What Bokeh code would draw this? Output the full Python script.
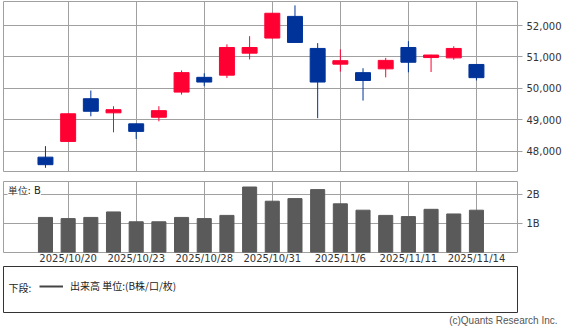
from bokeh.plotting import figure
from bokeh.models import (Range1d, FixedTicker, NumeralTickFormatter, PrintfTickFormatter,
                          Label, Title, Legend, LegendItem, ColumnDataSource)
from bokeh.layouts import column
from bokeh.embed import file_html
from bokeh.resources import INLINE

dates = ["2025/10/17", "2025/10/20", "2025/10/21", "2025/10/22", "2025/10/23", "2025/10/24",
         "2025/10/27", "2025/10/28", "2025/10/29", "2025/10/30", "2025/10/31", "2025/11/4",
         "2025/11/5", "2025/11/6", "2025/11/7", "2025/11/10", "2025/11/11", "2025/11/12",
         "2025/11/13", "2025/11/14"]
open_ = [47810, 48310, 49670, 49220, 48870, 49080, 49880, 50350, 50420, 51120,
         51600, 52290, 51270, 50770, 50500, 50620, 51300, 50980, 50970, 50760]
high = [48160, 49200, 49930, 49430, 48880, 49430, 50570, 50480, 51400, 51660,
        52400, 52640, 51440, 51240, 50640, 50970, 51500, 51070, 51340, 50770]
low = [47470, 48300, 49110, 48600, 48390, 48950, 49800, 50070, 50330, 50920,
       51590, 51450, 49050, 50530, 49610, 50350, 50510, 50520, 50910, 50250]
close = [47570, 49190, 49270, 49320, 48630, 49290, 50500, 50200, 51300, 51300,
         52390, 51460, 50200, 50880, 50250, 50890, 50830, 51060, 51270, 50340]
volume_b = [1.21, 1.17, 1.21, 1.40, 1.06, 1.06, 1.21, 1.17, 1.28, 2.26,
            1.77, 1.86, 2.17, 1.68, 1.46, 1.28, 1.24, 1.49, 1.33, 1.46]
tick_labels = ["2025/10/20", "2025/10/23", "2025/10/28", "2025/10/31",
               "2025/11/6", "2025/11/11", "2025/11/14"]
price_ticks = [48000, 49000, 50000, 51000, 52000]
volume_ticks = [1, 2]

UP = "#FF0033"
DOWN = "#003399"
GRID = "#a0a0a0"
FONT = "DejaVu Sans"
CJK = "Noto Sans CJK JP"

idx = list(range(len(dates)))
src = ColumnDataSource(dict(
    x=idx, open=open_, high=high, low=low, close=close,
    top=[max(o, c) for o, c in zip(open_, close)],
    bottom=[min(o, c) for o, c in zip(open_, close)],
    color=[UP if c >= o else DOWN for o, c in zip(open_, close)],
    vol=volume_b,
))
tick_idx = [dates.index(t) for t in tick_labels]
xr = Range1d(-1.85, 20.81)

# ---------- price panel ----------
p1 = figure(width=575, height=176, x_range=xr, y_range=Range1d(47353, 52764),
            output_backend="svg", toolbar_location=None, y_axis_location="right",
            x_axis_location=None, min_border_left=3, min_border_right=58,
            min_border_top=1, min_border_bottom=5)
p1.segment(x0="x", y0="high", x1="x", y1="low", color="color", line_width=1, source=src)
p1.vbar(x="x", width=0.66, top="top", bottom="bottom", fill_color="color",
        line_color="color", source=src)

# ---------- volume panel ----------
p2 = figure(width=575, height=90, x_range=xr, y_range=Range1d(0, 2.45),
            output_backend="svg", toolbar_location=None, y_axis_location="right",
            min_border_left=3, min_border_right=58, min_border_top=5, min_border_bottom=12)
p2.vbar(x="x", width=0.62, top="vol", bottom=0, fill_color="#5a5a5a",
        line_color="#5a5a5a", source=src)
p2.add_layout(Label(x=4, y=57, x_units="screen", y_units="screen", text="単位: B",
                    text_font=FONT, text_font_size="10px", text_color="#222222",
                    background_fill_color="white"))

for p, ticks in ((p1, price_ticks), (p2, volume_ticks)):
    p.background_fill_color = "white"
    p.border_fill_color = "white"
    p.outline_line_color = GRID
    p.xgrid.ticker = FixedTicker(ticks=tick_idx)
    p.xgrid.grid_line_color = GRID
    p.ygrid.grid_line_color = GRID
    ax = p.yaxis[0]
    ax.ticker = FixedTicker(ticks=ticks)
    ax.axis_line_color = None
    ax.major_tick_line_color = GRID
    ax.major_tick_out = 5
    ax.major_tick_in = 0
    ax.minor_tick_line_color = None
    ax.major_label_standoff = 4
    ax.major_label_text_font = FONT
    ax.major_label_text_font_size = "10px"
    ax.major_label_text_color = "#333333"

p1.yaxis[0].formatter = NumeralTickFormatter(format="0,0")
p2.yaxis[0].formatter = PrintfTickFormatter(format="%dB")

xa = p2.xaxis[0]
xa.ticker = FixedTicker(ticks=tick_idx)
xa.major_label_overrides = {i: dates[i] for i in tick_idx}
xa.axis_line_color = None
xa.major_tick_line_color = None
xa.major_tick_out = 0
xa.major_tick_in = 0
xa.minor_tick_line_color = None
xa.minor_tick_out = 0
xa.major_label_standoff = 0
xa.major_label_text_font = FONT
xa.major_label_text_font_size = "10px"
xa.major_label_text_color = "#333333"

# ---------- legend / footer ----------
p3 = figure(width=575, height=60, x_range=Range1d(0, 518), y_range=Range1d(0, 46),
            output_backend="svg", toolbar_location=None, x_axis_location=None,
            y_axis_location=None, min_border_left=3, min_border_right=54,
            min_border_top=0, min_border_bottom=14)
p3.xgrid.visible = False
p3.ygrid.visible = False
p3.outline_line_color = "#333333"
p3.border_fill_color = "white"
nan = float("nan")
swatch = p3.line(x=[nan], y=[nan], line_color="#444444", line_width=2)
leg = Legend(items=[LegendItem(label="出来高 単位:(B株/口/枚)", renderers=[swatch])],
             location=(36, 19), orientation="horizontal",
             glyph_width=24, glyph_height=12, label_height=12, label_standoff=7,
             padding=0, margin=0, border_line_color=None, background_fill_alpha=0,
             label_text_font=CJK, label_text_font_size="10px",
             label_text_color="#222222")
p3.add_layout(leg)
p3.add_layout(Label(x=5, y=25, text="下段:", text_baseline="middle",
                    text_font=CJK, text_font_size="10px", text_color="#222222"))
p3.add_layout(Title(text="(c)Quants Research Inc.", align="right", offset=-40, standoff=0,
                    text_font="Liberation Sans", text_font_size="10px",
                    text_font_style="normal", text_color="#555555"), "below")

layout = column(p1, p2, p3, spacing=0)
open("out.html", "w").write(file_html(layout, INLINE))
